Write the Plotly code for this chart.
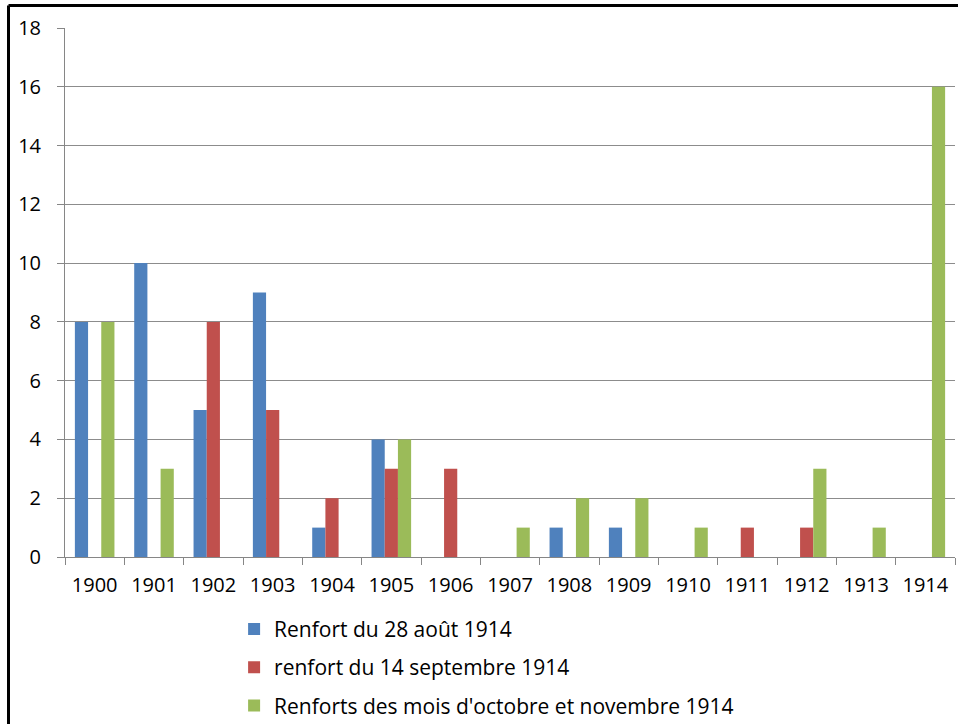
import plotly.graph_objects as go

years = ["1900", "1901", "1902", "1903", "1904", "1905", "1906", "1907",
         "1908", "1909", "1910", "1911", "1912", "1913", "1914"]
renfort_aout = [8, 10, 5, 9, 1, 4, 0, 0, 1, 1, 0, 0, 0, 0, 0]
renfort_sept = [0, 0, 8, 5, 2, 3, 3, 0, 0, 0, 0, 1, 1, 0, 0]
renfort_oct_nov = [8, 3, 0, 0, 0, 4, 0, 1, 2, 2, 1, 0, 3, 1, 16]

series_names = ["Renfort du 28 août 1914",
                "renfort du 14 septembre 1914",
                "Renforts des mois d'octobre et novembre 1914"]
colors = ["#4F81BD", "#C0504D", "#9BBB59"]

FONT = "Open Sans"
FS = 20
fig = go.Figure()
for i, (name, vals, col) in enumerate(zip(series_names,
                                           [renfort_aout, renfort_sept, renfort_oct_nov],
                                           colors)):
    fig.add_trace(go.Bar(x=years, y=vals, name=name, legendgroup=f"g{i}",
                         marker=dict(color=col, line=dict(width=0))))

fig.update_layout(
    width=958, height=724,
    margin=dict(l=65, r=3, t=28, b=167, autoexpand=False),
    paper_bgcolor="white", plot_bgcolor="white",
    barmode="group", bargap=0.333, bargroupgap=0,
    font=dict(family=FONT, size=FS, color="#000000"),
    showlegend=True,
    legend=dict(orientation="v", x=0.19, y=-0.098, xanchor="left", yanchor="top",
                font=dict(family=FONT, size=21, color="#000000"),
                bgcolor="rgba(0,0,0,0)", traceorder="grouped", tracegroupgap=8),
    xaxis=dict(showgrid=False, showline=True, linecolor="#868686", linewidth=1,
               ticks="outside", ticklen=7, tickcolor="#868686", tickson="boundaries",
               ticklabelstandoff=10, automargin=False,
               tickfont=dict(family=FONT, size=FS, color="#000000")),
    yaxis=dict(range=[0, 18], dtick=2, showgrid=True, gridcolor="#8C8C8C", gridwidth=1,
               showline=True, linecolor="#868686", linewidth=1,
               ticks="outside", ticklen=7, tickcolor="#868686",
               zeroline=False, ticklabelstandoff=12, automargin=False,
               tickfont=dict(family=FONT, size=FS, color="#000000")),
)

fig.add_shape(type="line", xref="paper", yref="paper",
              x0=(8.5 - 65) / 890, x1=1.01, y0=(557 - 5.5) / 529, y1=(557 - 5.5) / 529,
              line=dict(color="black", width=3), layer="above")
fig.add_shape(type="line", xref="paper", yref="paper",
              x0=(8.5 - 65) / 890, x1=(8.5 - 65) / 890, y0=(557 - 5.5) / 529, y1=-0.5,
              line=dict(color="black", width=3), layer="above")

fig.write_html("out.html", config={"displayModeBar": False},
               post_script="document.body.style.margin='0';document.body.style.overflow='hidden';")
